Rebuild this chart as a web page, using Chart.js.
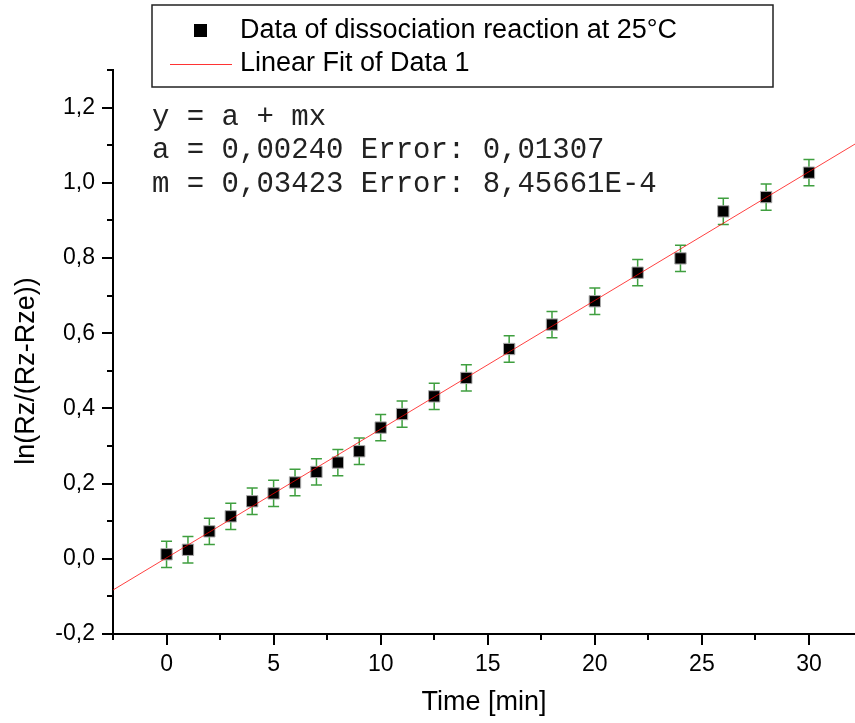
<!DOCTYPE html>
<html>
<head>
<meta charset="utf-8">
<script src="https://cdn.jsdelivr.net/npm/chart.js@4.4.1/dist/chart.umd.min.js"></script>
<style>
  html, body { margin: 0; padding: 0; background: #fff; }
</style>
</head>
<body>
<canvas id="chart" width="855" height="723"></canvas>
<script>
// Data
const timeMin = [0, 1, 2, 3, 4, 5, 6, 7, 8, 9, 10, 11, 12.5, 14, 16, 18, 20, 22, 24, 26, 28, 30];
const lnRatio = [0.012, 0.024, 0.073, 0.113, 0.153, 0.174, 0.203, 0.231, 0.256, 0.286, 0.349,
                 0.385, 0.432, 0.481, 0.558, 0.623, 0.685, 0.761, 0.799, 0.924, 0.962, 1.027];
const lnError = [0.035, 0.035, 0.035, 0.035, 0.035, 0.035, 0.035, 0.035, 0.035, 0.035, 0.035,
                 0.035, 0.035, 0.035, 0.035, 0.035, 0.035, 0.035, 0.035, 0.035, 0.035, 0.035];

// Linear fit line end points
const fitX = [-2.5, 32.15];
const fitY = [-0.083, 1.103];

// Axis ticks (major labelled, minor halfway between)
const xTicks = [-2.5, 0, 2.5, 5, 7.5, 10, 12.5, 15, 17.5, 20, 22.5, 25, 27.5, 30];
const xLabels = ['', '0', '', '5', '', '10', '', '15', '', '20', '', '25', '', '30'];
const yTicks = [-0.2, -0.1, 0, 0.1, 0.2, 0.3, 0.4, 0.5, 0.6, 0.7, 0.8, 0.9, 1.0, 1.1, 1.2, 1.3];
const yLabels = ['-0,2', '', '0,0', '', '0,2', '', '0,4', '', '0,6', '', '0,8', '', '1,0', '', '1,2', ''];

const fitText = [
    'y = a + mx',
    'a = 0,00240 Error: 0,01307',
    'm = 0,03423 Error: 8,45661E-4'
];
const seriesLabels = ['Data of dissociation reaction at 25°C', 'Linear Fit of Data 1'];
const yTitle = 'ln(Rz/(Rz-Rze))';

const sans = '"Liberation Sans", Arial, sans-serif';
const mono = '"Liberation Mono", "Courier New", monospace';

// Error bars, drawn under the markers
const errorBars = {
    id: 'errorBars',
    beforeDatasetsDraw(chart) {
        const ctx = chart.ctx;
        const xs = chart.scales.x, ys = chart.scales.y;
        ctx.save();
        ctx.strokeStyle = '#3f9f3f';
        ctx.lineWidth = 1.5;
        timeMin.forEach((t, i) => {
            const px = xs.getPixelForValue(t);
            const top = ys.getPixelForValue(lnRatio[i] + lnError[i]);
            const bot = ys.getPixelForValue(lnRatio[i] - lnError[i]);
            ctx.beginPath();
            ctx.moveTo(px, top); ctx.lineTo(px, bot);
            ctx.moveTo(px - 5.5, top); ctx.lineTo(px + 5.5, top);
            ctx.moveTo(px - 5.5, bot); ctx.lineTo(px + 5.5, bot);
            ctx.stroke();
        });
        ctx.restore();
    }
};

// Tick marks pointing outwards, longer where labelled
const tickMarks = {
    id: 'tickMarks',
    afterDraw(chart) {
        const ctx = chart.ctx;
        const xs = chart.scales.x, ys = chart.scales.y;
        const area = chart.chartArea;
        ctx.save();
        ctx.strokeStyle = '#000';
        ctx.lineWidth = 2;
        ctx.beginPath();
        xTicks.forEach((v, i) => {
            const px = Math.round(xs.getPixelForValue(v));
            const len = xLabels[i] ? 11 : 6;
            ctx.moveTo(px, area.bottom);
            ctx.lineTo(px, area.bottom + len);
        });
        yTicks.forEach((v, i) => {
            const py = Math.round(ys.getPixelForValue(v));
            const len = yLabels[i] ? 11 : 6;
            ctx.moveTo(area.left, py);
            ctx.lineTo(area.left - len, py);
        });
        ctx.stroke();

        // y axis title, sitting a bit below the middle as in the original
        ctx.fillStyle = '#000';
        ctx.font = '27px ' + sans;
        ctx.textAlign = 'center';
        ctx.textBaseline = 'middle';
        ctx.translate(27, 371);
        ctx.rotate(-Math.PI / 2);
        ctx.fillText(yTitle, 0, 0);
        ctx.restore();
    }
};

// Legend box and fit parameters text
const legendBox = {
    id: 'legendBox',
    afterDraw(chart) {
        const ctx = chart.ctx;
        ctx.save();
        ctx.fillStyle = '#fff';
        ctx.fillRect(152, 5, 621, 82);
        ctx.strokeStyle = '#222';
        ctx.lineWidth = 1.5;
        ctx.strokeRect(152, 5, 621, 82);

        ctx.fillStyle = '#000';
        ctx.fillRect(194, 24, 13, 13);
        ctx.strokeStyle = 'rgba(255,0,0,0.8)';
        ctx.lineWidth = 1;
        ctx.beginPath();
        ctx.moveTo(170, 64.5); ctx.lineTo(232, 64.5);
        ctx.stroke();

        ctx.fillStyle = '#000';
        ctx.font = '27px ' + sans;
        ctx.textBaseline = 'middle';
        ctx.fillText(seriesLabels[0], 240, 31);
        ctx.fillText(seriesLabels[1], 240, 64);

        ctx.font = '29px ' + mono;
        ctx.fillStyle = '#222';
        ctx.textBaseline = 'alphabetic';
        fitText.forEach((line, i) => ctx.fillText(line, 152, 125 + i * 33.3));
        ctx.restore();
    }
};

const ctx = document.getElementById('chart').getContext('2d');

new Chart(ctx, {
    type: 'scatter',
    data: {
        datasets: [{
            label: seriesLabels[1],
            type: 'line',
            data: fitX.map((x, i) => ({ x: x, y: fitY[i] })),
            borderColor: 'rgba(255,0,0,0.75)',
            borderWidth: 1,
            pointRadius: 0,
            fill: false,
            order: 0
        }, {
            label: seriesLabels[0],
            data: timeMin.map((t, i) => ({ x: t, y: lnRatio[i] })),
            pointStyle: 'rect',
            pointRadius: 8,
            backgroundColor: '#000',
            borderColor: '#aaa',
            borderWidth: 1,
            order: 1
        }]
    },
    options: {
        responsive: false,
        animation: false,
        layout: { autoPadding: false, padding: { top: 70, left: 0, right: 0, bottom: 0 } },
        plugins: {
            legend: { display: false },
            tooltip: { enabled: false }
        },
        scales: {
            x: {
                type: 'linear',
                min: -2.5,
                max: 32.15,
                afterBuildTicks: (s) => { s.ticks = xTicks.map(v => ({ value: v })); },
                afterFit: (s) => {
                    s.height = 89;
                    s.paddingLeft = 0;
                    s.paddingRight = 0;
                },
                grid: { display: false, drawTicks: false },
                border: { color: '#000', width: 2 },
                ticks: {
                    autoSkip: false,
                    maxRotation: 0,
                    padding: 17,
                    color: '#000',
                    font: { family: sans, size: 23 },
                    callback: (v, i) => xLabels[i]
                },
                title: {
                    display: true,
                    text: 'Time [min]',
                    color: '#000',
                    font: { family: sans, size: 27 },
                    padding: { top: 0, bottom: 4 }
                }
            },
            y: {
                type: 'linear',
                min: -0.2,
                max: 1.3,
                afterBuildTicks: (s) => { s.ticks = yTicks.map(v => ({ value: v })); },
                afterFit: (s) => {
                    s.width = 113;
                    s.paddingTop = 0;
                    s.paddingBottom = 0;
                },
                grid: { display: false, drawTicks: false },
                border: { color: '#000', width: 2 },
                ticks: {
                    autoSkip: false,
                    padding: 18,
                    color: '#000',
                    font: { family: sans, size: 23 },
                    callback: (v, i) => yLabels[i]
                },
                title: { display: false }
            }
        }
    },
    plugins: [errorBars, tickMarks, legendBox]
});
</script>
</body>
</html>
